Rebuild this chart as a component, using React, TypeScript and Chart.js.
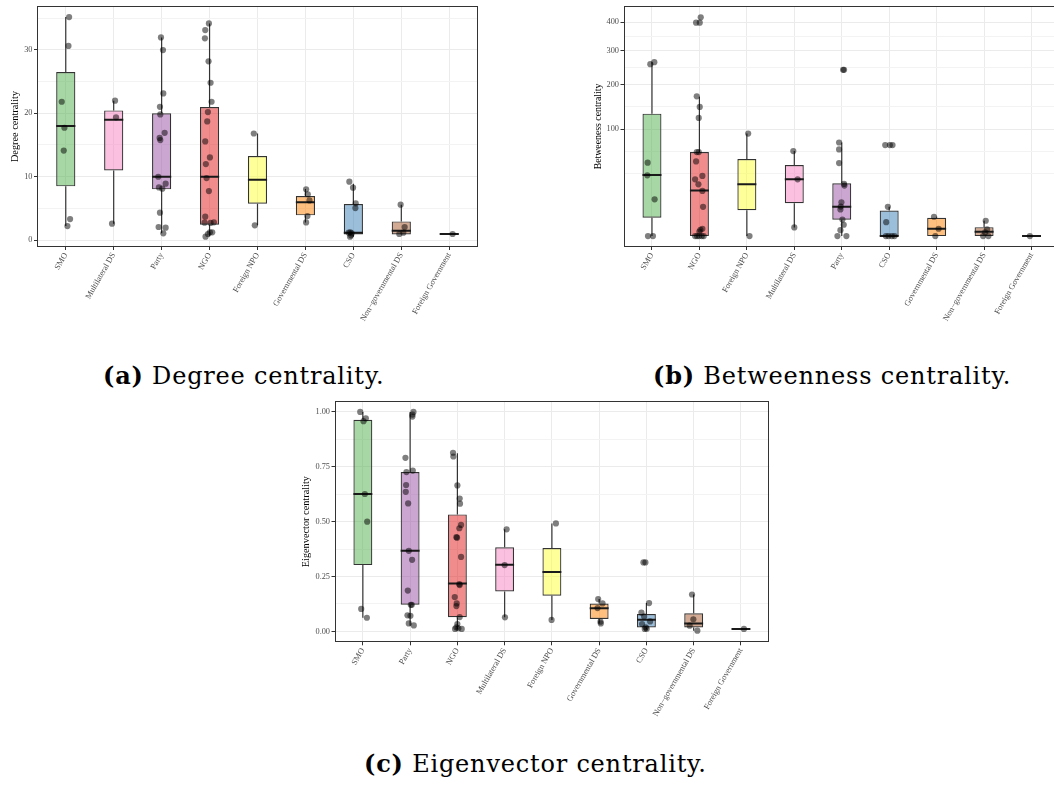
import React, { useEffect, useRef } from 'react';
import { Chart, registerables } from 'chart.js';
Chart.register(...registerables);

const NONGOV = 'Non\u2212governmental DS';

// ---------- (a) Degree centrality ----------
const degreeCategories = ['SMO', 'Multilateral DS', 'Party', 'NGO', 'Foreign NPO', 'Governmental DS', 'CSO', NONGOV, 'Foreign Government'];
const degreeLow = [2.2, 2.57, 1.05, 0.58, 2.31, 2.78, 0.53, 0.89, 0.95];
const degreeQ1 = [8.46, 10.98, 7.99, 2.42, 5.73, 3.89, 0.89, 0.89, 0.95];
const degreeMedian = [17.97, 18.97, 9.98, 9.98, 9.51, 5.94, 1.16, 1.47, 0.95];
const degreeQ3 = [26.5, 20.44, 19.97, 20.97, 13.24, 6.94, 5.68, 2.94, 0.95];
const degreeHigh = [35.15, 21.97, 31.95, 34.16, 16.8, 8.04, 8.88, 5.57, 0.95];
const degreePoints: [number, number][][] = [
  [[0.07, 35.16], [0.056, 30.6], [-0.084, 21.8], [-0.028, 17.7], [-0.042, 14.1], [0.09, 3.3], [0.035, 2.2]],
  [[0.028, 21.97], [0.049, 19.34], [-0.035, 2.57]],
  [[-0.014, 31.95], [0.028, 29.95], [0.035, 23.12], [-0.035, 21.0], [-0.028, 19.8], [0.063, 16.9], [-0.042, 16.1], [-0.028, 15.76], [-0.07, 9.98], [0.084, 8.88], [-0.056, 8.3], [0.014, 8.1], [-0.035, 4.31], [-0.063, 2.05], [0.084, 1.94], [0.035, 1.05]],
  [[-0.014, 34.16], [-0.09, 33.1], [-0.097, 31.8], [-0.021, 28.17], [0.021, 24.8], [0.042, 21.8], [-0.035, 20.18], [-0.049, 18.7], [-0.09, 15.55], [0.007, 13.03], [-0.077, 11.98], [-0.063, 9.77], [-0.014, 7.72], [-0.09, 3.68], [-0.104, 2.73], [0.09, 2.79], [0.021, 2.7], [0.007, 1.21], [0.056, 1.21], [-0.035, 0.95], [-0.084, 0.53]],
  [[-0.077, 16.8], [-0.056, 2.31]],
  [[0.014, 7.99], [0.049, 7.2], [0.084, 6.25], [0.042, 3.78], [0.014, 2.78]],
  [[-0.084, 9.2], [-0.007, 8.25], [0.049, 5.78], [0.042, 5.04], [-0.063, 1.21], [-0.035, 1.05], [-0.07, 0.53], [-0.049, 0.74], [-0.097, 1.16]],
  [[-0.014, 5.57], [0.07, 2.05], [-0.042, 0.95], [0.042, 1.16]],
  [[0.07, 0.95]],
];
const degreeMajorTicks = [0, 10, 20, 30];
const degreeMinorTicks = [5, 15, 25, 35];

// ---------- (b) Betweenness centrality (square-root axis) ----------
const betweennessCategories = ['SMO', 'NGO', 'Foreign NPO', 'Multilateral DS', 'Party', 'CSO', 'Governmental DS', NONGOV, 'Foreign Government'];
const betweennessLow = [0, 0, 0, 0.65, 0, 0, 0, 0, 0];
const betweennessQ1 = [2.93, 0, 5.85, 9.43, 2.33, 0, 0, 0, 0];
const betweennessMedian = [32.6, 18.1, 23.4, 28.1, 7.47, 0, 0.47, 0.17, 0];
const betweennessQ3 = [130.9, 61.6, 51.8, 44.1, 24.3, 5.7, 2.93, 0.7, 0];
const betweennessHigh = [264, 169.6, 91.8, 63.1, 76.5, 7.47, 3.26, 2.05, 0];
const betweennessPoints: [number, number][][] = [
  [[-0.035, 258], [0.049, 264], [-0.091, 47], [-0.098, 32.2], [0.056, 11.8], [-0.084, 0], [0.021, 0]],
  [[-0.07, 397.7], [0.007, 397.7], [0.028, 417.7], [-0.056, 170.6], [0.007, 145.6], [-0.014, 121.9], [-0.056, 61.6], [-0.014, 61.6], [-0.07, 48.7], [0.063, 31.6], [-0.091, 28.1], [-0.021, 23.4], [0.063, 17.8], [0.077, 7.47], [0.021, 0.35], [0.063, 0.47], [0, 0.17], [-0.091, 0], [-0.049, 0], [-0.007, 0], [0.049, 0], [0.091, 0]],
  [[0.028, 91.8], [0.056, 0]],
  [[-0.021, 63.1], [0.07, 28.1], [0, 0.65]],
  [[0.028, 241.3], [0.049, 241.3], [-0.056, 76.5], [-0.056, 65.5], [-0.056, 46.6], [0.049, 23.8], [0.056, 22.3], [-0.007, 10.0], [-0.021, 7.6], [-0.028, 6.2], [0.014, 2.4], [0.042, 1.12], [-0.028, 0.31], [-0.091, 0], [0.098, 0]],
  [[-0.084, 72.3], [0.014, 72.3], [0.07, 72.3], [-0.028, 7.47], [-0.063, 1.7], [-0.07, 0], [-0.014, 0], [0.056, 0], [0.112, 0]],
  [[-0.056, 3.26], [0.042, 0.47], [-0.028, 0]],
  [[0.035, 2.05], [0.063, 0.4], [-0.021, 0], [0.091, 0], [0.021, 0.12]],
  [[-0.035, 0]],
];
const betweennessMajorTicks = [100, 200, 300, 400];
const betweennessMinorTicks = [34.3, 62.9, 145.7, 247.4, 348.2];

// ---------- (c) Eigenvector centrality ----------
const eigenCategories = ['SMO', 'Party', 'NGO', 'Multilateral DS', 'Foreign NPO', 'Governmental DS', 'CSO', NONGOV, 'Foreign Government'];
const eigenLow = [0.062, 0.026, 0.009, 0.064, 0.052, 0.036, 0.009, 0.003, 0.011];
const eigenQ1 = [0.302, 0.121, 0.064, 0.182, 0.162, 0.056, 0.018, 0.018, 0.011];
const eigenMedian = [0.626, 0.367, 0.218, 0.303, 0.271, 0.105, 0.053, 0.036, 0.011];
const eigenQ3 = [0.964, 0.726, 0.533, 0.383, 0.38, 0.127, 0.079, 0.082, 0.011];
const eigenHigh = [1.0, 1.0, 0.812, 0.465, 0.491, 0.147, 0.129, 0.168, 0.011];
const eigenPoints: [number, number][][] = [
  [[-0.056, 1.0], [0.014, 0.958], [0.063, 0.971], [0.042, 0.626], [0.092, 0.5], [-0.035, 0.102], [0.085, 0.062]],
  [[0.071, 1.0], [0.049, 0.988], [0.049, 0.979], [-0.099, 0.791], [0.056, 0.733], [-0.078, 0.726], [-0.085, 0.667], [-0.092, 0.636], [-0.042, 0.583], [-0.028, 0.367], [0.042, 0.326], [-0.049, 0.186], [0.035, 0.121], [0.014, 0.121], [-0.056, 0.073], [0.007, 0.071], [-0.028, 0.036], [0.078, 0.027]],
  [[-0.092, 0.814], [-0.085, 0.797], [0, 0.665], [0.049, 0.605], [0.056, 0.582], [0.078, 0.485], [0.042, 0.47], [-0.021, 0.429], [-0.007, 0.427], [0.078, 0.339], [0.042, 0.215], [0.049, 0.211], [-0.056, 0.156], [-0.014, 0.127], [-0.021, 0.115], [0.049, 0.065], [0, 0.033], [-0.021, 0.018], [-0.049, 0.011], [0.092, 0.011], [0.021, 0.014]],
  [[0.042, 0.465], [0, 0.302], [0.007, 0.064]],
  [[0.085, 0.492], [-0.007, 0.052]],
  [[-0.021, 0.147], [0.071, 0.127], [-0.035, 0.106], [0.028, 0.044], [0.035, 0.036]],
  [[-0.063, 0.314], [-0.021, 0.314], [0.056, 0.129], [-0.106, 0.085], [-0.049, 0.068], [0.078, 0.045], [-0.092, 0.033], [-0.035, 0.011], [0.007, 0.012], [-0.014, 0.018]],
  [[-0.035, 0.168], [-0.007, 0.055], [-0.085, 0.026], [0.078, 0.003]],
  [[0.063, 0.011]],
];
const eigenMajorTicks = [0, 0.25, 0.5, 0.75, 1.0];
const eigenMinorTicks = [0.125, 0.375, 0.625, 0.875];

const categoryColors: Record<string, string> = {
  'SMO': 'rgba(77,175,74,0.5)',
  'Multilateral DS': 'rgba(247,129,191,0.5)',
  'Party': 'rgba(152,78,163,0.5)',
  'NGO': 'rgba(228,26,28,0.5)',
  'Foreign NPO': 'rgba(255,255,51,0.5)',
  'Governmental DS': 'rgba(255,127,0,0.5)',
  'CSO': 'rgba(55,126,184,0.5)',
  [NONGOV]: 'rgba(166,86,40,0.5)',
  'Foreign Government': 'rgba(153,153,153,0.5)',
};

interface PanelSpec {
  left: number; top: number; width: number; height: number;
  area: { l: number; t: number; r: number; b: number };
  categories: string[]; low: number[]; q1: number[]; median: number[]; q3: number[]; high: number[];
  points: [number, number][][];
  majors: number[]; minors: number[];
  yMin: number; yMax: number; sqrt: boolean;
  fmt: (v: number) => string;
  title: string; titleSize: number; titleCenter: number;
}

const panels: PanelSpec[] = [
  {
    left: 0, top: 0, width: 485, height: 340, area: { l: 37, t: 6, r: 478, b: 247 },
    categories: degreeCategories, low: degreeLow, q1: degreeQ1, median: degreeMedian, q3: degreeQ3, high: degreeHigh,
    points: degreePoints, majors: degreeMajorTicks, minors: degreeMinorTicks,
    yMin: -1.1, yMax: 36.9, sqrt: false, fmt: (v) => String(v),
    title: 'Degree centrality', titleSize: 10.3, titleCenter: 15.7,
  },
  {
    left: 585, top: 0, width: 485, height: 340, area: { l: 38.5, t: 6, r: 475, b: 247 },
    categories: betweennessCategories, low: betweennessLow, q1: betweennessQ1, median: betweennessMedian, q3: betweennessQ3, high: betweennessHigh,
    points: betweennessPoints, majors: betweennessMajorTicks, minors: betweennessMinorTicks,
    yMin: -1.02, yMax: 21.5, sqrt: true, fmt: (v) => String(v),
    title: 'Betweeness centrality', titleSize: 9.8, titleCenter: 13.3,
  },
  {
    left: 295, top: 395, width: 485, height: 340, area: { l: 39.5, t: 6, r: 474.3, b: 247.3 },
    categories: eigenCategories, low: eigenLow, q1: eigenQ1, median: eigenMedian, q3: eigenQ3, high: eigenHigh,
    points: eigenPoints, majors: eigenMajorTicks, minors: eigenMinorTicks,
    yMin: -0.05, yMax: 1.05, sqrt: false, fmt: (v) => v.toFixed(2),
    title: 'Eigenvector centrality', titleSize: 10.3, titleCenter: 11.7,
  },
];

const borderPlugin = {
  id: 'panelBorder',
  afterDraw(chart: any) {
    const { ctx, chartArea } = chart;
    const l = Math.round(chartArea.left) + 0.5;
    const t = Math.round(chartArea.top) + 0.5;
    const r = Math.round(chartArea.right) - 0.5;
    const b = Math.round(chartArea.bottom) - 0.5;
    ctx.save();
    ctx.strokeStyle = '#333333';
    ctx.lineWidth = 1;
    ctx.strokeRect(l, t, r - l, b - t);
    ctx.restore();
  },
};

function buildConfig(p: PanelSpec): any {
  const tf = (v: number) => (p.sqrt ? Math.sqrt(v) : v);
  const n = p.categories.length;
  const half = 0.2;
  const boxes = p.categories.map((_, i) => ({ x: i, y: [tf(p.q1[i]), tf(p.q3[i])] }));
  const whiskers: any[] = [];
  const medians: any[] = [];
  p.categories.forEach((_, i) => {
    whiskers.push({ x: i, y: tf(p.high[i]) }, { x: i, y: tf(p.q3[i]) }, { x: i, y: null });
    whiskers.push({ x: i, y: tf(p.q1[i]) }, { x: i, y: tf(p.low[i]) }, { x: i, y: null });
    medians.push({ x: i - half, y: tf(p.median[i]) }, { x: i + half, y: tf(p.median[i]) }, { x: i, y: null });
  });
  const pts = p.points.flatMap((arr, i) => arr.map(([j, v]) => ({ x: i + j, y: tf(v) })));
  const yTicks = [
    ...p.majors.map((v) => ({ value: tf(v), isMajor: true, lbl: p.fmt(v) })),
    ...p.minors.map((v) => ({ value: tf(v), isMajor: false, lbl: '' })),
  ].sort((a, b) => a.value - b.value);
  const tickFont = { family: '"Liberation Serif", serif', size: 8.3 };
  const titleLH = p.titleSize * 1.2;

  return {
    type: 'scatter',
    data: {
      datasets: [
        {
          type: 'scatter', order: 0, data: pts,
          pointRadius: 3.1, pointHoverRadius: 3.1, pointBorderWidth: 0,
          backgroundColor: 'rgba(0,0,0,0.5)', borderColor: 'rgba(0,0,0,0)',
        },
        {
          type: 'line', order: 1, data: medians, borderColor: '#1a1a1a', borderWidth: 2,
          pointRadius: 0, fill: false, spanGaps: false, tension: 0,
        },
        {
          type: 'bar', order: 2, data: boxes,
          backgroundColor: p.categories.map((c) => categoryColors[c]),
          borderColor: '#333333', borderWidth: 1.2, borderSkipped: false,
          barPercentage: 0.5, categoryPercentage: 0.8, grouped: false,
        },
        {
          type: 'line', order: 3, data: whiskers, borderColor: '#333333', borderWidth: 1.2,
          pointRadius: 0, fill: false, spanGaps: false, tension: 0,
        },
      ],
    },
    options: {
      responsive: false,
      animation: false,
      events: [],
      layout: { padding: { top: p.area.t, right: p.width - p.area.r, left: 0, bottom: 0 } },
      plugins: { legend: { display: false }, tooltip: { enabled: false } },
      scales: {
        x: {
          type: 'linear', min: -0.6, max: n - 1 + 0.6, offset: false,
          afterBuildTicks: (ax: any) => { ax.ticks = p.categories.map((_, i) => ({ value: i })); },
          afterFit: (s: any) => { s.height = p.height - p.area.b; s.paddingLeft = 0; s.paddingRight = 0; },
          ticks: {
            autoSkip: false, minRotation: 60, maxRotation: 60, padding: 1,
            callback: (v: number) => p.categories[Math.round(v)] ?? '',
            font: tickFont, color: '#4d4d4d',
          },
          grid: { offset: false, color: '#ebebeb', lineWidth: 1, tickLength: 3, tickColor: '#333333' },
          border: { display: false },
        },
        y: {
          type: 'linear', min: p.yMin, max: p.yMax, offset: false,
          afterBuildTicks: (ax: any) => { ax.ticks = yTicks.map((t) => ({ ...t })); },
          afterFit: (s: any) => { s.width = p.area.l; s.paddingTop = 0; s.paddingBottom = 0; },
          ticks: {
            padding: 1.5, autoSkip: false,
            callback: (_v: number, idx: number) => yTicks[idx]?.lbl ?? '',
            font: tickFont, color: '#4d4d4d',
          },
          grid: {
            offset: false,
            color: (ctx: any) => (ctx.tick && ctx.tick.isMajor ? '#ebebeb' : '#f3f3f3'),
            lineWidth: 1, tickLength: 3,
            tickColor: (ctx: any) => (ctx.tick && ctx.tick.isMajor ? '#333333' : 'rgba(0,0,0,0)'),
          },
          border: { display: false },
          title: {
            display: true, text: p.title, color: '#000000',
            font: { family: '"Liberation Serif", serif', size: p.titleSize },
            padding: { top: p.titleCenter - titleLH / 2, bottom: 0 },
          },
        },
      },
    },
    plugins: [borderPlugin],
  };
}

function Panel({ spec }: { spec: PanelSpec }) {
  const ref = useRef<HTMLCanvasElement>(null);
  useEffect(() => {
    const chart = new Chart(ref.current as HTMLCanvasElement, buildConfig(spec));
    return () => chart.destroy();
  }, [spec]);
  return (
    <canvas
      ref={ref}
      width={spec.width}
      height={spec.height}
      style={{ position: 'absolute', left: spec.left, top: spec.top, width: spec.width, height: spec.height }}
    />
  );
}

const captionStyle: React.CSSProperties = {
  position: 'absolute',
  fontFamily: '"DejaVu Serif", serif',
  fontSize: 24,
  lineHeight: '24px',
  letterSpacing: '0.8px',
  whiteSpace: 'nowrap',
  color: '#000',
};

export default function App() {
  return (
    <div style={{ position: 'absolute', left: 0, top: 0, width: 1054, height: 787, overflow: 'hidden', background: '#fff' }}>
      {panels.map((p, i) => <Panel key={i} spec={p} />)}
      <div style={{ ...captionStyle, left: 103, top: 364 }}><b>(a)</b> Degree centrality.</div>
      <div style={{ ...captionStyle, left: 653, top: 364 }}><b>(b)</b> Betweenness centrality.</div>
      <div style={{ ...captionStyle, left: 364, top: 752 }}><b>(c)</b> Eigenvector centrality.</div>
    </div>
  );
}
